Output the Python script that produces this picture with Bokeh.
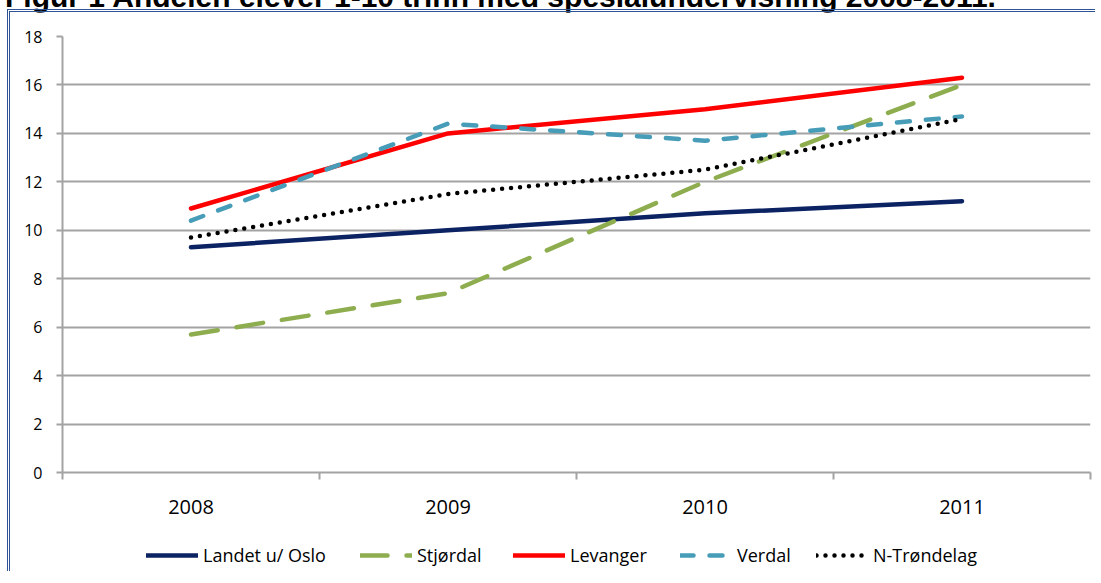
from bokeh.plotting import figure
from bokeh.models import FixedTicker, Legend, LegendItem, Div, Range1d
from bokeh.layouts import column
from bokeh.embed import file_html
from bokeh.resources import INLINE

# ---- data ----
years = ["2008", "2009", "2010", "2011"]
landet = [9.3, 10.0, 10.7, 11.2]
stjordal = [5.7, 7.4, 12.0, 16.0]
levanger = [10.9, 14.0, 15.0, 16.3]
verdal = [10.4, 14.4, 13.7, 14.7]
ntrondelag = [9.7, 11.5, 12.5, 14.6]
series_names = ["Landet u/ Oslo", "Stjørdal", "Levanger", "Verdal", "N-Trøndelag"]
y_ticks = [0, 2, 4, 6, 8, 10, 12, 14, 16, 18]
title_text = "Figur 1 Andelen elever 1-10 trinn med spesialundervisning 2008-2011."

x = [i + 0.5 for i in range(len(years))]
GRID = "#A3A3A3"
FONT = "Open Sans"
BORDER = "3px double #2F5496"
LW = 4.5

p = figure(width=1088, height=520, output_backend="svg", toolbar_location=None,
           x_range=Range1d(0, len(years)), y_range=Range1d(0, 18),
           min_border_left=52, min_border_right=8, min_border_top=24, min_border_bottom=60)
p.outline_line_color = None
p.background_fill_color = "white"
p.border_fill_color = "white"
p.styles = {"margin-left": "7px", "border-left": BORDER, "border-top": BORDER}

p.xgrid.visible = False
p.ygrid.grid_line_color = GRID
p.ygrid.grid_line_width = 2

# y axis
p.yaxis.ticker = FixedTicker(ticks=y_ticks)
p.yaxis.axis_line_color = GRID
p.yaxis.axis_line_width = 2
p.yaxis.major_tick_line_color = GRID
p.yaxis.major_tick_line_width = 2
p.yaxis.major_tick_out = 6
p.yaxis.major_tick_in = 0
p.yaxis.minor_tick_line_color = None
p.yaxis.major_label_text_font = FONT
p.yaxis.major_label_text_font_size = "16px"
p.yaxis.major_label_text_color = "black"
p.yaxis.major_label_standoff = 14

# x axis
p.xaxis.ticker = FixedTicker(ticks=x, minor_ticks=list(range(len(years) + 1)))
p.xaxis.major_label_overrides = {xi: yr for xi, yr in zip(x, years)}
p.xaxis.axis_line_color = GRID
p.xaxis.axis_line_width = 2
p.xaxis.major_tick_line_color = None
p.xaxis.major_tick_out = 0
p.xaxis.major_tick_in = 0
p.xaxis.minor_tick_line_color = GRID
p.xaxis.minor_tick_line_width = 2
p.xaxis.minor_tick_out = 7
p.xaxis.minor_tick_in = 0
p.xaxis.major_label_text_font = FONT
p.xaxis.major_label_text_font_size = "20px"
p.xaxis.major_label_text_color = "black"
p.xaxis.major_label_standoff = 20

styles = [
    dict(color="#0B2263", dash="solid"),
    dict(color="#8DAD4F", dash="27 19"),
    dict(color="#FF0000", dash="solid"),
    dict(color="#479DB8", dash="13 16"),
    dict(color="#000000", dash="0 9"),
]
values = [landet, stjordal, levanger, verdal, ntrondelag]
for vals, st in zip(values, styles):
    p.line(x, vals, line_color=st["color"], line_width=LW, line_dash=st["dash"],
           line_cap="round", line_join="round")

# ---- legend strip (a second, axis-less figure under the chart) ----
lp = figure(width=1088, height=42, output_backend="svg", toolbar_location=None,
            x_range=Range1d(0, 1), y_range=Range1d(0, 1),
            x_axis_type=None, y_axis_type=None, min_border=0)
lp.outline_line_color = None
lp.xgrid.visible = False
lp.ygrid.visible = False
lp.border_fill_color = "white"
lp.styles = {"margin-left": "7px", "border-left": BORDER}

legend_x = [84, 298, 451, 618, 754]
for name, vals, st, lx in zip(series_names, values, styles, legend_x):
    proxy = lp.line(x, vals, line_color=st["color"], line_width=LW, line_dash=st["dash"],
                    line_cap="round", line_join="round", visible=False)
    lg = Legend(items=[LegendItem(label=name, renderers=[proxy])], location=(lx, 4),
                orientation="horizontal", glyph_width=52, glyph_height=20,
                label_height=20, label_standoff=5, padding=0, margin=0, spacing=0,
                border_line_color=None, background_fill_alpha=0,
                inactive_fill_alpha=0,
                label_text_font=FONT, label_text_font_size="18px",
                label_text_color="black")
    lp.add_layout(lg, "center")

title = Div(text=title_text, width=1080, height=26,
            styles={"margin-top": "-22px", "position": "relative", "top": "5px",
                    "font-family": "Liberation Sans", "font-weight": "bold",
                    "font-size": "30px", "line-height": "28px", "white-space": "nowrap",
                    "color": "black"})

layout = column(title, p, lp, spacing=0)
open("out.html", "w").write(file_html(layout, INLINE))
